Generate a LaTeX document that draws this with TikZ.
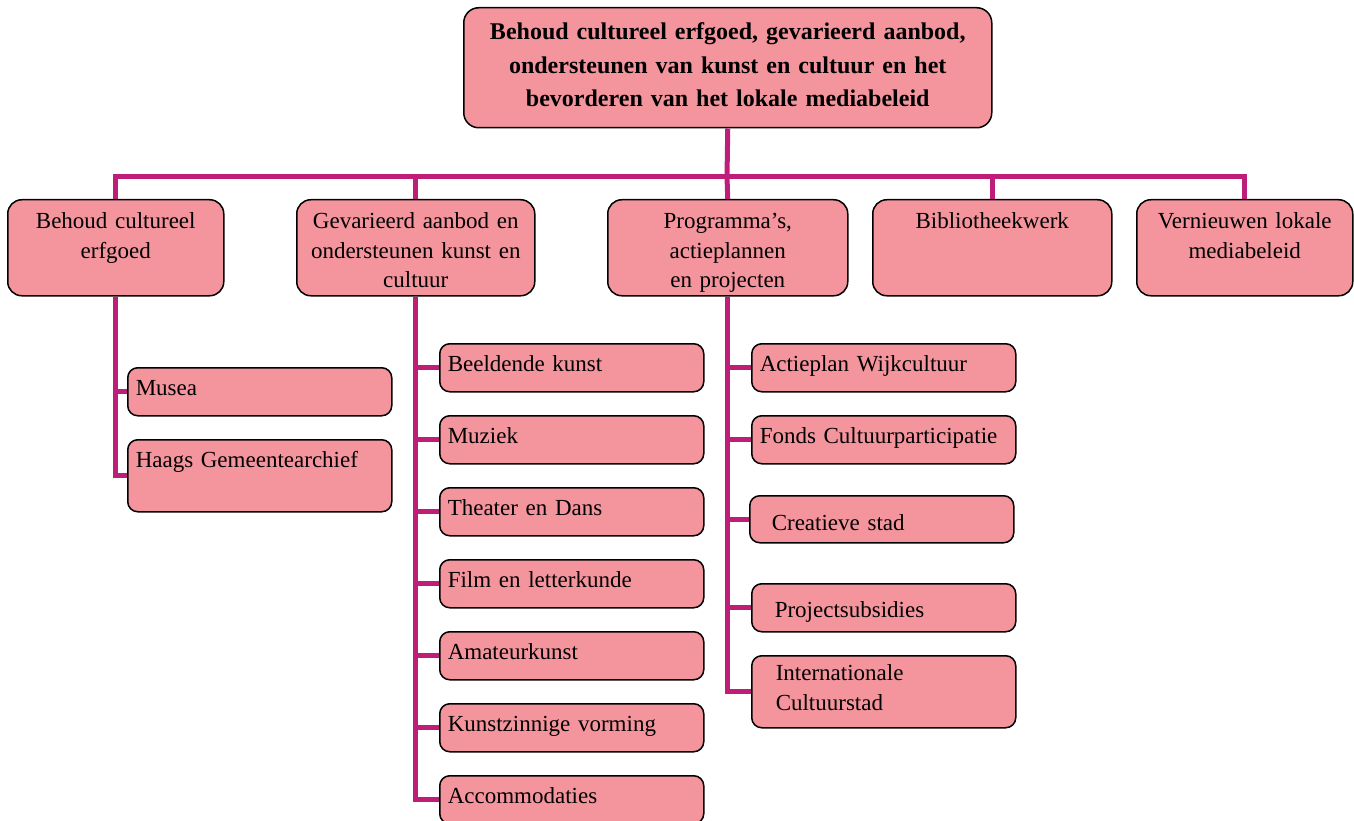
\documentclass[tikz,border=0pt]{standalone}
\usepackage{fontspec}
\setmainfont{Liberation Serif}
\usetikzlibrary{shapes,positioning}
\definecolor{boxpink}{RGB}{244,148,157}
\definecolor{linkmagenta}{RGB}{190,30,122}
\tikzstyle{pinkbox}=[rectangle, rounded corners=10pt, draw, line width=1.5pt, fill=boxpink, inner xsep=8pt, inner ysep=0pt, anchor=north west]
\tikzstyle{topblock}=[pinkbox, rounded corners=15pt, font=\bfseries\fontsize{24}{33.5}\selectfont, align=center, text width=512pt, text height=32pt, text depth=88pt]
\tikzstyle{mainblock}=[pinkbox, rounded corners=14pt, font=\fontsize{23}{29.5}\selectfont, align=center, text height=29pt, text depth=67pt]
\tikzstyle{subblock}=[pinkbox, font=\fontsize{23}{30}\selectfont, align=left, text width=248pt, text height=28pt, text depth=20pt]
\tikzstyle{link}=[draw=linkmagenta, line width=5pt]

\begin{document}
\begin{tikzpicture}[x=1pt, y=-1pt]
\useasboundingbox (0,0) rectangle (1354,821);

\node[topblock] (top) at (463,7) {Behoud cultureel erfgoed, gevarieerd aanbod,\\ ondersteunen van kunst en cultuur en het\\ bevorderen van het lokale mediabeleid};

\node[mainblock, text width=200pt] (erfgoed) at (7,199) {Behoud cultureel\\ erfgoed};
\node[mainblock, text width=222pt] (aanbod) at (296,199) {Gevarieerd aanbod en\\ ondersteunen kunst en\\ cultuur};
\node[mainblock, text width=224pt] (programmas) at (607,199) {Programma’s,\\ actieplannen\\ en projecten};
\node[mainblock, text width=223pt] (biblio) at (872,199) {Bibliotheekwerk};
\node[mainblock, text width=200pt] (media) at (1136,199) {Vernieuwen lokale\\ mediabeleid};

\node[subblock] (musea) at (127,367) {Musea};
\node[subblock, text depth=44pt] (archief) at (127,439) {Haags Gemeentearchief};

\node[subblock] (beeldend) at (439,343) {Beeldende kunst};
\node[subblock] (muziek) at (439,415) {Muziek};
\node[subblock] (theater) at (439,487) {Theater en Dans};
\node[subblock] (film) at (439,559) {Film en letterkunde};
\node[subblock] (amateur) at (439,631) {Amateurkunst};
\node[subblock] (vorming) at (439,703) {Kunstzinnige vorming};
\node[subblock] (accom) at (439,775) {Accommodaties};

\node[subblock] (actieplan) at (751,343) {Actieplan Wijkcultuur};
\node[subblock] (fonds) at (751,415) {Fonds Cultuurparticipatie};
\node[subblock, inner xsep=22pt, text width=220pt, text height=35pt, text depth=12pt] (creatief) at (749,495) {Creatieve stad};
\node[subblock, inner xsep=23pt, text width=218pt, text height=34pt, text depth=14pt] (subsidie) at (751,583) {Projectsubsidies};
\node[subblock, inner xsep=24pt, text width=216pt, text height=25pt, text depth=47pt] (internat) at (751,655) {Internationale\\ Cultuurstad};

\coordinate (bar) at (727,177);
\draw[link] (top.south) -- (bar);
\draw[link] (bar) -| (erfgoed.north);
\draw[link] (bar) -| (aanbod.north);
\draw[link] (bar) -- (programmas.north);
\draw[link] (bar) -| (biblio.north);
\draw[link] (bar) -| (media.north);

\draw[link] (erfgoed.south) |- (musea.west);
\draw[link] (erfgoed.south) |- (archief.west);

\draw[link] (aanbod.south) |- (beeldend.west);
\draw[link] (aanbod.south) |- (muziek.west);
\draw[link] (aanbod.south) |- (theater.west);
\draw[link] (aanbod.south) |- (film.west);
\draw[link] (aanbod.south) |- (amateur.west);
\draw[link] (aanbod.south) |- (vorming.west);
\draw[link] (aanbod.south) |- (accom.west);

\draw[link] (programmas.south) |- (actieplan.west);
\draw[link] (programmas.south) |- (fonds.west);
\draw[link] (programmas.south) |- (creatief.west);
\draw[link] (programmas.south) |- (subsidie.west);
\draw[link] (programmas.south) |- (internat.west);

\end{tikzpicture}
\end{document}
